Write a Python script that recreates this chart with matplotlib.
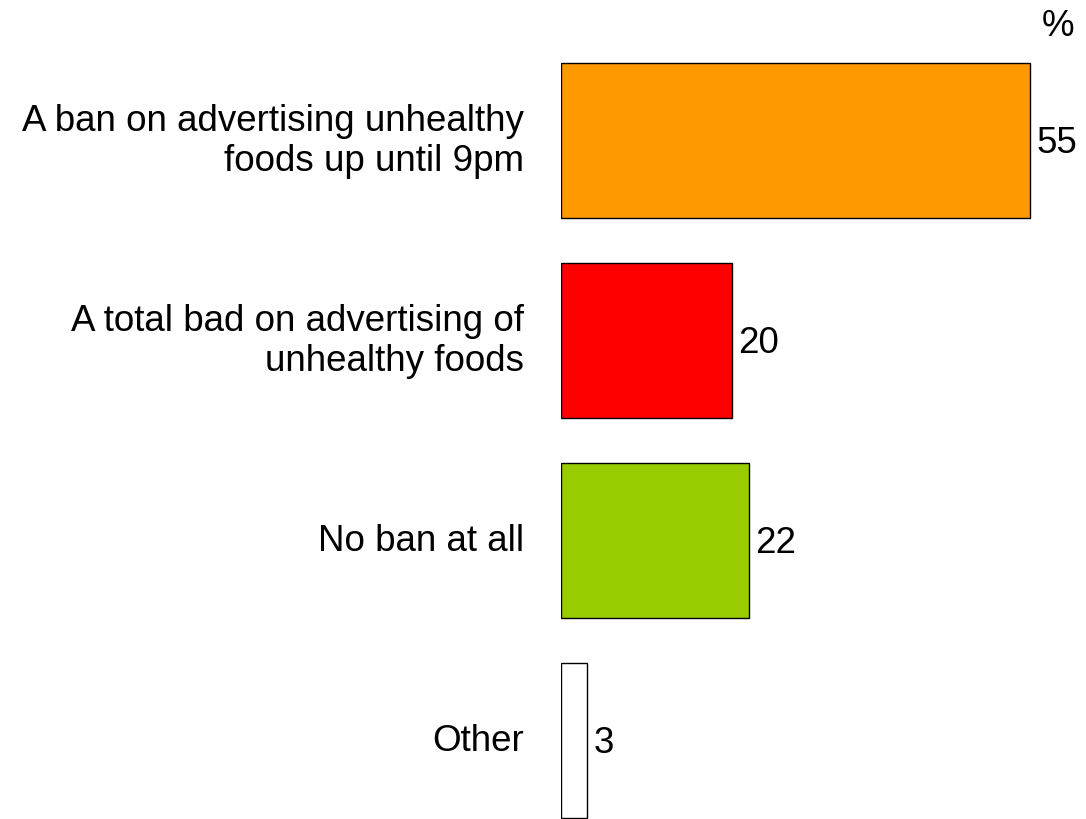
import matplotlib
matplotlib.use("Agg")
import matplotlib.pyplot as plt

categories = ["A ban on advertising unhealthy\nfoods up until 9pm",
              "A total bad on advertising of\nunhealthy foods",
              "No ban at all",
              "Other"]
values = [55, 20, 22, 3]
colors = ["#FF9900", "#FF0000", "#99CC00", "#FFFFFF"]

plt.rcParams['font.family'] = ['Liberation Sans', 'DejaVu Sans']

fig = plt.figure(figsize=(10.86, 8.2), dpi=100)
ax = fig.add_axes([561/1086, 0, 0.4711, 1])
ypos = list(range(len(values)))
ax.barh(ypos, values, height=0.775, color=colors, edgecolor='black', linewidth=1)
ax.set_xlim(0, 60)
ax.set_ylim(3.3925, -0.7075)
ax.axis('off')

for y, v, lab in zip(ypos, values, categories):
    ax.text(v + 0.8, y + 0.01, str(v), va='center', ha='left', fontsize=26.5)
    ax.text(-4.3, y, lab, va='center', ha='right', fontsize=26.5, linespacing=1.2)

fig.text(1058/1086, 1 - 27/820, "%", ha='center', va='center', fontsize=26.5)

fig.savefig("out.png", dpi=100)
